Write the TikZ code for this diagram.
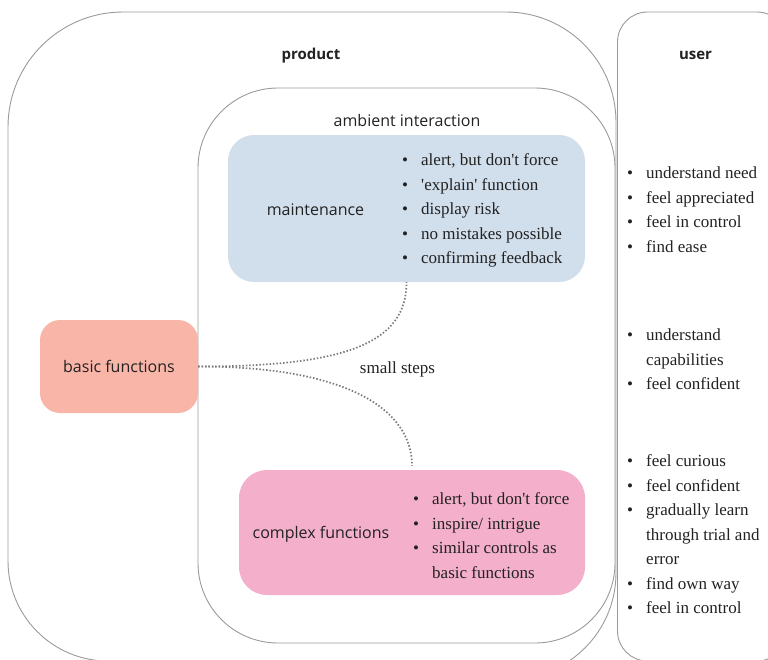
\documentclass[tikz,border=0pt]{standalone}
\usepackage{fontspec}
\setmainfont{Liberation Serif}
\newfontfamily\labelfont{Open Sans}

\definecolor{frameline}{HTML}{9A9A9A}
\definecolor{maintfill}{HTML}{D1DEEC}
\definecolor{basicfill}{HTML}{F9B5A8}
\definecolor{complexfill}{HTML}{F4AFCB}
\definecolor{ink}{HTML}{222222}
\definecolor{dotline}{HTML}{7A7A7A}

% bullet item and continuation line of a list
\newcommand{\itm}[1]{\makebox[19pt][l]{\textbullet}#1}
\newcommand{\cnt}[1]{\hspace*{19pt}#1}
\newcommand{\apos}{\textquotesingle}

\begin{document}
\begin{tikzpicture}[x=1pt,y=-1pt,
  frame/.style={draw=frameline,line width=0.9pt},
  panel/.style={draw=none,inner sep=0pt,rounded corners=#1},
  sanslabel/.style={font=\labelfont\fontsize{16}{19}\selectfont,text=ink,inner sep=0pt},
  heading/.style={font=\labelfont\bfseries\fontsize{15}{18}\selectfont,text=ink,inner sep=0pt},
  bullets/.style={font=\fontsize{17}{24.5}\selectfont,text=ink,align=left,inner sep=0pt,anchor=north west},
  link/.style={draw=dotline,line width=1.7pt,dash pattern=on 1.5pt off 1.9pt}
]
\clip (0,0) rectangle (768,659);

% product frame
\draw[frame] (8,127) .. controls (8,63.5) and (59.5,12) .. (123,12)
  -- (506,12) .. controls (566.75,12) and (616,61.25) .. (616,122)
  -- (616,573) .. controls (616,631.5) and (568.5,679) .. (510,679)
  -- (108,661) .. controls (52.8,661) and (8,616.2) .. (8,561) -- cycle;

% ambient interaction frame
\draw[frame,rounded corners=80pt] (198,88) rectangle (615,643);

% user frame
\draw[frame,rounded corners=30pt] (617.5,12) rectangle (787,661);

% coloured panels
\node[panel=26pt,fill=maintfill,minimum width=357pt,minimum height=147pt] (maint) at (406.5,208.5) {};
\node[panel=20pt,fill=basicfill,minimum width=158pt,minimum height=93pt,sanslabel] (basic) at (119,366.5) {basic functions};
\node[panel=28pt,fill=complexfill,minimum width=346pt,minimum height=125pt] (complex) at (412,532.5) {};

% headings and labels
\node[heading,anchor=base] (productlabel) at (311,59) {product};
\node[heading,anchor=base] (userlabel) at (695.5,59) {user};
\node[sanslabel,anchor=base] (ambientlabel) at (407,126) {ambient interaction};
\node[sanslabel,anchor=base] (maintlabel) at (315.5,215) {maintenance};
\node[sanslabel,anchor=base] (complexlabel) at (321,538) {complex functions};
\node[font=\fontsize{17}{20}\selectfont,text=ink,anchor=base,inner sep=0pt] (steps) at (397.5,373) {small steps};

% lists
\node[bullets] (maintlist) at (402,153.7) {\itm{alert, but don\apos t force}\\
  \itm{\apos explain\apos{} function}\\
  \itm{display risk}\\
  \itm{no mistakes possible}\\
  \itm{confirming feedback}};
\node[bullets] (complexlist) at (413,492.7) {\itm{alert, but don\apos t force}\\
  \itm{inspire/ intrigue}\\
  \itm{similar controls as}\\
  \cnt{basic functions}};
\node[bullets] (userlistA) at (627,166.7) {\itm{understand need}\\
  \itm{feel appreciated}\\
  \itm{feel in control}\\
  \itm{find ease}};
\node[bullets] (userlistB) at (627,328.7) {\itm{understand}\\
  \cnt{capabilities}\\
  \itm{feel confident}};
\node[bullets] (userlistC) at (627,454.7) {\itm{feel curious}\\
  \itm{feel confident}\\
  \itm{gradually learn}\\
  \cnt{through trial and}\\
  \cnt{error}\\
  \itm{find own way}\\
  \itm{feel in control}};

% small-step connectors
\draw[link] (basic.east) .. controls +(150,0) and +(0,60) .. (maint.south);
\draw[link,shorten >=4pt] (basic.east) .. controls +(150,0) and +(0,-60) .. (complex.north);
\end{tikzpicture}
\end{document}
